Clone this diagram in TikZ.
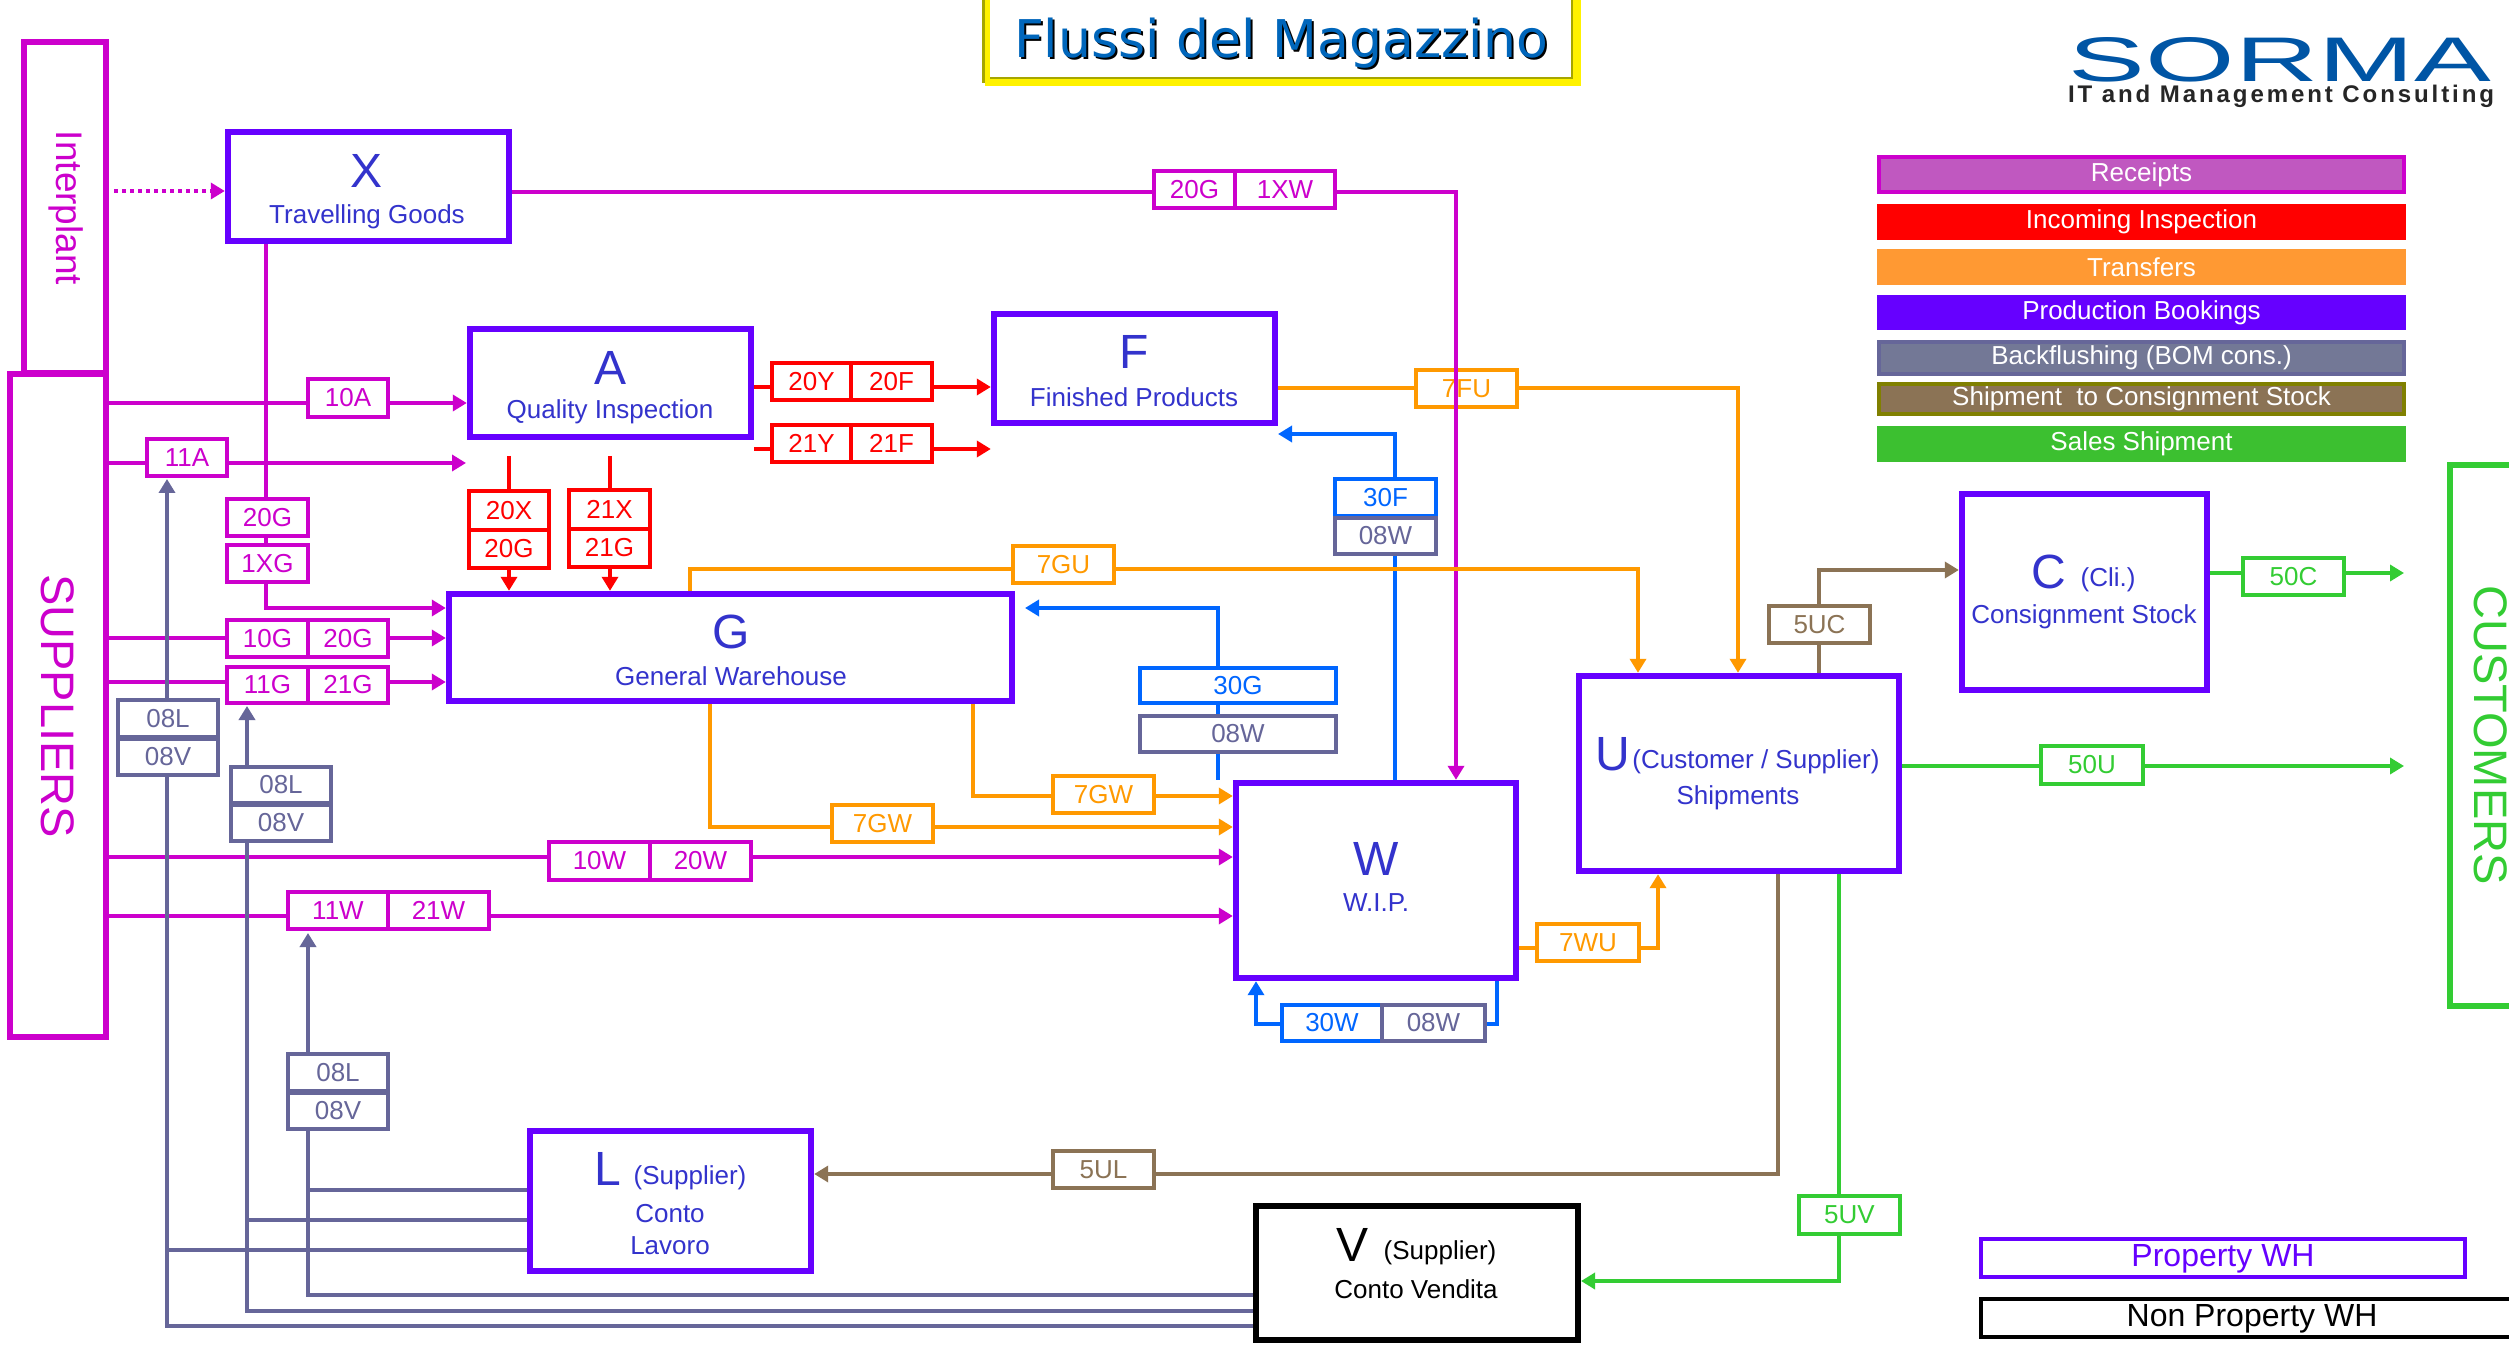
\documentclass[tikz,border=0pt]{standalone}
\usepackage{fontspec}
\usepackage{graphicx}
\setmainfont{Liberation Sans}
\newfontfamily\titlefont{DejaVu Sans}
\newfontfamily\spacedfont[LetterSpace=12]{Liberation Sans}
\usetikzlibrary{arrows.meta}
\definecolor{mag}{HTML}{CC00CC}
\definecolor{redf}{HTML}{FF0000}
\definecolor{org}{HTML}{FF9900}
\definecolor{blu}{HTML}{0066FF}
\definecolor{gry}{HTML}{666699}
\definecolor{brn}{HTML}{8B7355}
\definecolor{grn}{HTML}{33CC33}
\definecolor{vio}{HTML}{6600FF}
\definecolor{txb}{HTML}{3333CC}
\definecolor{lgA}{HTML}{C058C0}
\definecolor{lgC}{HTML}{FF9933}
\definecolor{lgE}{HTML}{737896}
\definecolor{lgF}{HTML}{808000}
\definecolor{lgG}{HTML}{3CC030}
\definecolor{logoc}{HTML}{0055A5}
\definecolor{titlec}{HTML}{0066BB}
\definecolor{olv}{HTML}{A6A600}
\newcommand\fpx[1]{\fontsize{#1}{#1}\selectfont}
\newcommand\bx[7]{%
  \pgfmathsetmacro\bxcx{(#2+#4)/2}\pgfmathsetmacro\bxcy{(#3+#5)/2}%
  \pgfmathsetmacro\bxw{(#4-#2)*0.5}\pgfmathsetmacro\bxh{(#5-#3)*0.5}%
  \node[#6,minimum width=\bxw pt,minimum height=\bxh pt] (#1) at (\bxcx,\bxcy) {#7};}
\tikzset{
  flow/.style={line width=2pt,draw=#1,-{Triangle[length=7pt,width=8pt]}},
  link/.style={line width=2pt,draw=#1},
  wh/.style={draw=vio,line width=3.2pt,inner sep=0pt},
  lab/.style={draw=#1,text=#1,fill=white,line width=2pt,inner sep=0pt,font=\fpx{13}},
  leg/.style={fill=#1,text=white,inner sep=0pt,font=\fpx{13}},
  big/.style={text=txb,inner sep=0pt,font=\fpx{24}},
  sub/.style={text=txb,inner sep=0pt,font=\fpx{13}},
  bigk/.style={text=black,inner sep=0pt,font=\fpx{24}},
  subk/.style={text=black,inner sep=0pt,font=\fpx{13}},
}
\begin{document}
\begin{tikzpicture}[x=0.5pt,y=-0.5pt]
\clip (0,0) rectangle (2509,1347);
\fill[white] (0,0) rectangle (2509,1347);
\foreach \v in {191,192,387,388,403,434,449,463,479,569,570,573,608,638,682,706,766,796,827,857,916,933,948,1024,1174,1190,1220,1250,1281,1295,1311,1326}{\coordinate (y\v) at (0,\v);}
\foreach \v in {114,167,247,266,308,466,509,610,690,710,973,1025,1218,1256,1278,1395,1456,1497,1638,1658,1738,1778,1819,1839,2404}{\coordinate (x\v) at (\v,0);}

% title
\fill[yellow] (985,-4) rectangle (1581,86);
\draw[draw=olv,line width=1.5pt] (983,-4) -- (983,83);
\fill[white] (990,-4) rectangle (1571,77);
\draw[draw=olv,line width=1pt] (990,78) -- (1572,78) -- (1572,-4);
\node[inner sep=0pt,text=black,font=\titlefont\fpx{26}] (titleS) at (1283,45) {Flussi del Magazzino};
\node[inner sep=0pt,text=titlec,font=\titlefont\fpx{26}] (title) at (1281,43) {Flussi del Magazzino};

% logo
\node[inner sep=0pt,text=logoc] (logo) at (2280,60) {\resizebox{211pt}{22pt}{SORMA}};
\node[inner sep=0pt,text=black!85] (logosub) at (2281,96) {\resizebox{213pt}{!}{\spacedfont\bfseries IT and Management Consulting}};

% legend
\bx{lg1}{1879}{157}{2404}{192}{leg=lgA,draw=mag,line width=2pt}{Receipts}
\bx{lg2}{1877}{204}{2406}{240}{leg=redf}{Incoming Inspection}
\bx{lg3}{1877}{249}{2406}{285}{leg=lgC}{Transfers}
\bx{lg4}{1877}{295}{2406}{330}{leg=vio}{Production Bookings}
\bx{lg5}{1879}{342}{2404}{374}{leg=lgE,draw=gry,line width=2pt}{Backflushing (BOM cons.)}
\bx{lg6}{1879}{384}{2404}{414}{leg=brn,draw=lgF,line width=2pt}{Shipment\ \ to Consignment Stock}
\bx{lg7}{1877}{426}{2406}{462}{leg=lgG}{Sales Shipment}

% main boxes
\bx{ip}{24}{42}{106}{373}{draw=mag,line width=3pt}{}
\bx{sup}{10}{374}{106}{1037}{draw=mag,line width=3pt}{}
\bx{cust}{2450}{465}{2560}{1006}{draw=grn,line width=3pt}{}
\bx{X}{228}{132}{509}{241}{wh}{}
\bx{A}{470}{329}{751}{437}{wh}{}
\bx{F}{994}{314}{1275}{423}{wh}{}
\bx{G}{449}{594}{1012}{701}{wh}{}
\bx{W}{1236}{783}{1516}{978}{wh}{}
\bx{U}{1579}{676}{1899}{871}{wh}{}
\bx{C}{1962}{494}{2207}{690}{wh}{}
\bx{L}{530}{1131}{811}{1271}{wh}{}
\bx{V}{1256}{1206}{1578}{1340}{draw=black,line width=3pt,inner sep=0pt}{}

% box texts
\node[rotate=-90,inner sep=0pt,text=mag,font=\fpx{18.5}] (tIP) at (66,208) {Interplant};
\node[rotate=-90,inner sep=0pt,text=mag,font=\fpx{23.5}] (tSUP) at (58,706) {SUPPLIERS};
\node[rotate=-90,inner sep=0pt,text=grn,font=\fpx{23.5}] (tCUST) at (2491,735) {CUSTOMERS};
\node[big] (tX) at (367,171) {X};
\node[sub] (tX2) at (367,217) {Travelling Goods};
\node[big] (tA) at (610,368) {A};
\node[sub] (tA2) at (610,412) {Quality Inspection};
\node[big] (tF) at (1134,352) {F};
\node[sub] (tF2) at (1134,397) {Finished Products};
\node[big] (tG) at (731,632) {G};
\node[sub] (tG2) at (731,676) {General Warehouse};
\node[big] (tW) at (1376,859) {W};
\node[sub] (tW2) at (1376,903) {W.I.P.};
\node[big] (tU) at (1613,754) {U};
\node[sub] (tU2) at (1756,762) {(Customer / Supplier)};
\node[sub] (tU3) at (1738,798) {Shipments};
\node[big] (tC) at (2049,572) {C};
\node[sub] (tC2) at (2108,580) {(Cli.)};
\node[sub] (tC3) at (2084,617) {Consignment Stock};
\node[big] (tL) at (608,1169) {L};
\node[sub] (tL2) at (690,1178) {(Supplier)};
\node[sub] (tL3) at (670,1214) {Conto};
\node[sub] (tL4) at (670,1246) {Lavoro};
\node[bigk] (tV) at (1352,1245) {V};
\node[subk] (tV2) at (1440,1253) {(Supplier)};
\node[subk] (tV3) at (1416,1289) {Conto Vendita};

% orange F to U with its label under the magenta line
\draw[flow=org] (F.east|-y388) -| (x1738|-U.north);
\bx{l7FU}{1416}{370}{1517}{407}{lab=org}{7FU}

% magenta
\draw[flow=mag,dash pattern=on 2pt off 2pt] (x114|-y191) -- (X.west|-y191);
\draw[flow=mag] (X.east|-y192) -| (x1456|-W.north);
\draw[flow=mag] (x266|-X.south) -- (x266|-y608) -- (G.west|-y608);
\draw[flow=mag] (sup.east|-y403) -- (A.west|-y403);
\draw[flow=mag] (sup.east|-y463) -- (x466|-y463);
\draw[flow=mag] (sup.east|-y638) -- (G.west|-y638);
\draw[flow=mag] (sup.east|-y682) -- (G.west|-y682);
\draw[flow=mag] (sup.east|-y857) -- (W.west|-y857);
\draw[flow=mag] (sup.east|-y916) -- (W.west|-y916);

% red
\draw[flow=redf] (A.east|-y387) -- (F.west|-y387);
\draw[flow=redf] (A.east|-y449) -- (F.west|-y449);
\coordinate (r20) at (509,456);
\coordinate (r21) at (610,456);
\draw[flow=redf] (r20) -- (r20|-G.north);
\draw[flow=redf] (r21) -- (r21|-G.north);

% blue
\draw[flow=blu] (x1218|-W.north) -- (x1218|-y608) -- (x1025|-y608);
\draw[flow=blu] (x1395|-W.north) -- (x1395|-y434) -- (x1278|-y434);
\draw[flow=blu] (x1497|-W.south) |- (x1256|-y1024) -- (x1256|-W.south);

% orange
\draw[flow=org] (x690|-G.north) -- (x690|-y569) -| (x1638|-U.north);
\draw[flow=org] (x710|-G.south) |- (W.west|-y827);
\draw[flow=org] (x973|-G.south) |- (W.west|-y796);
\draw[flow=org] (W.east|-y948) -| (x1658|-U.south);

% brown
\draw[flow=brn] (x1819|-U.north) |- (C.west|-y570);
\draw[flow=brn] (x1778|-U.south) |- (L.east|-y1174);

% green
\draw[flow=grn] (C.east|-y573) -- (x2404|-y573);
\draw[flow=grn] (U.east|-y766) -- (x2404|-y766);
\draw[flow=grn] (x1839|-U.south) |- (V.east|-y1281);

% grey
\draw[flow=gry] (V.west|-y1326) -| (x167|-y479);
\draw[flow=gry] (V.west|-y1311) -| (x247|-y706);
\draw[flow=gry] (V.west|-y1295) -| (x308|-y933);
\draw[link=gry] (L.west|-y1190) -- (x308|-y1190);
\draw[link=gry] (L.west|-y1220) -- (x247|-y1220);
\draw[link=gry] (L.west|-y1250) -- (x167|-y1250);

% labels
\bx{l10A}{308}{379}{388}{417}{lab=mag}{10A}
\bx{l11A}{147}{439}{227}{476}{lab=mag}{11A}
\bx{l20G}{227}{499}{308}{536}{lab=mag}{20G}
\bx{l1XG}{227}{545}{308}{582}{lab=mag}{1XG}
\bx{l10G}{227}{620}{308}{657}{lab=mag}{10G}
\bx{l20Gb}{308}{620}{388}{657}{lab=mag}{20G}
\bx{l11G}{227}{667}{308}{703}{lab=mag}{11G}
\bx{l21G}{308}{667}{388}{703}{lab=mag}{21G}
\bx{l10W}{549}{842}{650}{880}{lab=mag}{10W}
\bx{l20W}{650}{842}{751}{880}{lab=mag}{20W}
\bx{l11W}{288}{892}{388}{929}{lab=mag}{11W}
\bx{l21W}{388}{892}{489}{929}{lab=mag}{21W}
\bx{l20Gc}{1154}{171}{1235}{208}{lab=mag}{20G}
\bx{l1XW}{1235}{171}{1335}{208}{lab=mag}{1XW}

\bx{l20Y}{772}{363}{851}{400}{lab=redf}{20Y}
\bx{l20F}{851}{363}{932}{400}{lab=redf}{20F}
\bx{l21Y}{772}{425}{851}{462}{lab=redf}{21Y}
\bx{l21F}{851}{425}{932}{462}{lab=redf}{21F}
\bx{l20X}{469}{491}{549}{530}{lab=redf}{20X}
\bx{l20Gd}{469}{530}{549}{568}{lab=redf}{20G}
\bx{l21X}{569}{490}{650}{529}{lab=redf}{21X}
\bx{l21Gb}{569}{529}{650}{567}{lab=redf}{21G}

\bx{l7GU}{1013}{546}{1114}{583}{lab=org}{7GU}
\bx{l7GWa}{832}{805}{933}{842}{lab=org}{7GW}
\bx{l7GWb}{1053}{776}{1154}{813}{lab=org}{7GW}
\bx{l7WU}{1537}{924}{1639}{961}{lab=org}{7WU}

\bx{l30F}{1335}{479}{1436}{516}{lab=blu}{30F}
\bx{l08Wa}{1335}{518}{1436}{554}{lab=gry}{08W}
\bx{l30G}{1140}{668}{1336}{703}{lab=blu}{30G}
\bx{l08Wb}{1140}{716}{1336}{752}{lab=gry}{08W}
\bx{l30W}{1282}{1005}{1382}{1041}{lab=blu}{30W}
\bx{l08Wc}{1382}{1005}{1485}{1041}{lab=gry}{08W}

\bx{l08La}{118}{700}{218}{737}{lab=gry}{08L}
\bx{l08Va}{118}{739}{218}{775}{lab=gry}{08V}
\bx{l08Lb}{231}{767}{331}{803}{lab=gry}{08L}
\bx{l08Vb}{231}{805}{331}{841}{lab=gry}{08V}
\bx{l08Lc}{288}{1054}{388}{1091}{lab=gry}{08L}
\bx{l08Vc}{288}{1093}{388}{1129}{lab=gry}{08V}

\bx{l5UC}{1769}{606}{1870}{643}{lab=brn}{5UC}
\bx{l5UL}{1053}{1151}{1154}{1188}{lab=brn}{5UL}
\bx{l50C}{2243}{558}{2344}{595}{lab=grn}{50C}
\bx{l50U}{2041}{746}{2143}{784}{lab=grn}{50U}
\bx{l5UV}{1799}{1196}{1900}{1234}{lab=grn}{5UV}

% key
\bx{kP}{1981}{1239}{2465}{1277}{draw=vio,line width=2pt,inner sep=0pt}{}
\node[inner sep=0pt,text=vio,font=\fpx{16}] (kPt) at (2223,1259) {Property WH};
\bx{kN}{1981}{1299}{2560}{1337}{draw=black,line width=2pt,inner sep=0pt}{}
\node[inner sep=0pt,text=black,font=\fpx{16}] (kNt) at (2252,1319) {Non Property WH};
\end{tikzpicture}
\end{document}
